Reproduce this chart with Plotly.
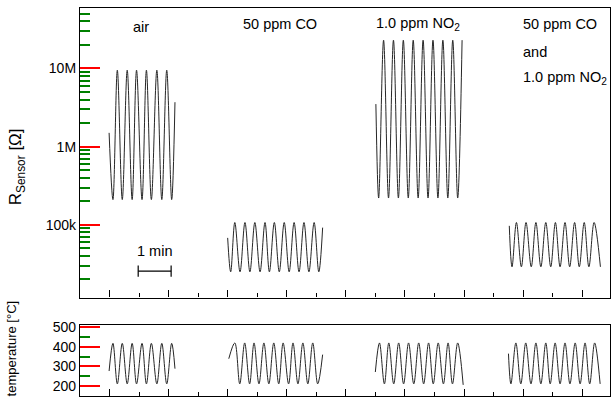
import plotly.graph_objects as go

# ---------------- data (time in s, resistance in Ohm, temperature in degC) -------------
air_t = [53, 60, 68, 77, 86, 95, 103, 113, 121, 130, 140, 149, 158, 167, 173]
air_r = [1.5e6, 2.1e5, 9.5e6, 2.1e5, 9.5e6, 2.1e5, 9.5e6, 2.1e5, 9.5e6, 2.1e5,
         9.5e6, 2.1e5, 9.5e6, 2.1e5, 3.7e6]
air_temp = [276, 418, 210, 418, 210, 418, 210, 418, 210, 418, 210, 418, 210, 418, 288]

co_t = [269, 274.5, 282, 291.5, 300.5, 309.5, 318.5, 328, 337, 345, 354, 363, 372,
        381, 390, 399, 408, 417, 426.5, 435, 442]
co_r = [6.8e4, 2.5e4, 1.07e5, 2.5e4, 1.07e5, 2.5e4, 1.07e5, 2.5e4, 1.07e5, 2.5e4,
        1.07e5, 2.5e4, 1.07e5, 2.5e4, 1.07e5, 2.5e4, 1.07e5, 2.5e4, 1.07e5, 2.5e4, 9.2e4]
co_temp_t = [271, 282, 291, 300, 309, 317, 326, 335, 344, 353, 362, 370, 380, 388,
             397, 406, 415, 424, 433, 442]
co_temp = [339, 420, 210, 420, 210, 420, 210, 420, 210, 420, 210, 420, 210, 420,
           210, 420, 210, 420, 210, 360]

no2_t = [539, 544, 553, 562, 571, 580, 589, 598, 607, 616, 625, 634, 643, 652, 661,
         670, 679, 688, 696]
no2_r = [3.5e6, 2.2e5, 2.3e7, 2.2e5, 2.3e7, 2.2e5, 2.3e7, 2.2e5, 2.3e7, 2.2e5,
         2.3e7, 2.2e5, 2.3e7, 2.2e5, 2.3e7, 2.2e5, 2.3e7, 2.2e5, 2.3e7]
no2_temp_t = [538, 545.5, 554.5, 562.5, 571.5, 580.5, 589.5, 598.5, 608, 617, 626,
              635, 643.5, 652.5, 662, 670.5, 678.5, 688, 698]
no2_temp = [271, 420, 210, 420, 210, 420, 210, 420, 210, 420, 210, 420, 210, 420,
            210, 420, 210, 420, 205]

mix_t = [782, 787, 795, 804, 812.5, 822, 830.5, 839.5, 848.5, 857.5, 866, 874.5,
         883.5, 892, 901, 909.5, 918.5, 927, 936.5, 948]
mix_r = [9.7e4, 2.9e4, 1.07e5, 2.9e4, 1.07e5, 2.9e4, 1.07e5, 2.9e4, 1.07e5, 2.9e4,
         1.07e5, 2.9e4, 1.07e5, 2.9e4, 1.07e5, 2.9e4, 1.07e5, 2.9e4, 1.07e5, 2.9e4]
mix_temp_t = [780.5, 785, 794, 803, 812, 821.5, 830.5, 839.5, 848.5, 856.5, 865.5,
              874.5, 883.5, 892.5, 902, 911, 920, 928.5, 937.5, 947.5]
mix_temp = [365, 210, 420, 210, 420, 210, 420, 210, 420, 210, 420, 210, 420, 210,
            420, 210, 420, 210, 420, 210]

labels = ["air", "50 ppm CO", "1.0 ppm NO<sub>2</sub>"]
mix_label = ["50 ppm CO", "and", "1.0 ppm NO<sub>2</sub>"]
r_decades = [1e5, 1e6, 1e7]
r_decade_text = ["100k", "1M", "10M"]
r_minor = [m * 10 ** e for e in range(4, 8) for m in range(2, 10)]
temp_ticks = [200, 300, 400, 500]
temp_minor = [150, 250, 350, 450]
scalebar_t = [106, 166]      # 1 min
scalebar_r = [2.55e4, 2.55e4]

# ---------------- figure ----------------
W, H = 613, 403
ML, MR, MT, MB = 80, 2, 6, 7
PW, PH = W - ML - MR, H - MT - MB
FONT = "Liberation Sans, Arial, Helvetica, sans-serif"
LC = "#262626"
YR = [4.07, 7.773]
TR = [148, 510]


def px(xp):
    return (xp - ML) / PW


def py(yp):
    return (H - MB - yp) / PH


fig = go.Figure()
for t, r in [(air_t, air_r), (co_t, co_r), (no2_t, no2_r), (mix_t, mix_r)]:
    fig.add_trace(go.Scatter(x=t, y=r, mode="lines", xaxis="x", yaxis="y",
                             line=dict(color=LC, width=1, shape="spline", smoothing=1),
                             showlegend=False, hoverinfo="skip"))
for t, v in [(air_t, air_temp), (co_temp_t, co_temp), (no2_temp_t, no2_temp),
             (mix_temp_t, mix_temp)]:
    fig.add_trace(go.Scatter(x=t, y=v, mode="lines", xaxis="x2", yaxis="y2",
                             line=dict(color=LC, width=1, shape="spline", smoothing=1),
                             showlegend=False, hoverinfo="skip"))
fig.add_trace(go.Scatter(x=scalebar_t, y=scalebar_r, mode="lines+markers",
                         xaxis="x", yaxis="y",
                         line=dict(color="black", width=1.2),
                         marker=dict(symbol="line-ns", size=8,
                                     line=dict(color="black", width=1.2)),
                         showlegend=False, hoverinfo="skip"))

top_bottom = (H - MB - 297) / PH
bot_top = (H - MB - 325) / PH

xcommon = dict(range=[0, PW / 0.55], showline=True, linecolor="black", linewidth=1.3,
               mirror=True, ticks="inside", tickmode="linear", tick0=54.5, dtick=107.5,
               ticklen=7, tickcolor="black", tickwidth=1.2, showticklabels=False,
               showgrid=False, zeroline=False,
               minor=dict(ticks="inside", ticklen=4, tick0=54.5, dtick=53.75,
                          tickcolor="black", tickwidth=1))

fig.update_layout(
    width=W, height=H, margin=dict(l=ML, r=MR, t=MT, b=MB),
    paper_bgcolor="white", plot_bgcolor="white",
    font=dict(family=FONT, size=14, color="black"),
    xaxis=dict(domain=[0, 1], anchor="y", **xcommon),
    xaxis2=dict(domain=[0, 1], anchor="y2", matches="x", **xcommon),
    yaxis=dict(domain=[top_bottom, 1], anchor="x", type="log", range=YR,
               showline=True, linecolor="black", linewidth=1.3, mirror=True,
               ticks="inside", ticklen=20, tickcolor="red", tickwidth=2,
               tickmode="array", tickvals=r_decades, ticktext=r_decade_text,
               tickfont=dict(family=FONT, size=14, color="black"),
               minor=dict(ticks="inside", ticklen=10, tickmode="array",
                          tickvals=r_minor, tickcolor="green", tickwidth=2)),
    yaxis2=dict(domain=[0, bot_top], anchor="x2", range=TR,
                showline=True, linecolor="black", linewidth=1.3, mirror=True,
                ticks="inside", ticklen=20, tickcolor="red", tickwidth=2,
                tickmode="array", tickvals=temp_ticks,
                tickfont=dict(family=FONT, size=14, color="black"),
                minor=dict(ticks="inside", ticklen=10, tickmode="array",
                           tickvals=temp_minor, tickcolor="green", tickwidth=2)),
)

LAB = dict(family=FONT, size=14.5, color="black")
ann = []
ann.append(dict(text=labels[0], x=px(141), y=py(25), xanchor="center", yanchor="middle", font=LAB))
ann.append(dict(text=labels[1], x=px(280), y=py(22), xanchor="center", yanchor="middle", font=LAB))
ann.append(dict(text=labels[2], x=px(375), y=py(22), xanchor="left", yanchor="middle", font=LAB))
for txt, yy in zip(mix_label, [22, 50, 76]):
    ann.append(dict(text=txt, x=px(522), y=py(yy), xanchor="left", yanchor="middle", font=LAB))
ann.append(dict(text="1 min", x=px(154.5), y=py(250), xanchor="center", yanchor="middle", font=LAB))
ann.append(dict(text="R<sub>Sensor</sub> [Ω]", x=px(17), y=py(166), textangle=-90,
                xanchor="center", yanchor="middle",
                font=dict(family=FONT, size=17, color="black")))
ann.append(dict(text="temperature [°C]", x=px(11), y=py(348), textangle=-90,
                xanchor="center", yanchor="middle",
                font=dict(family=FONT, size=13, color="black")))
for a in ann:
    a.update(xref="paper", yref="paper", showarrow=False)
fig.update_layout(annotations=ann)

fig.write_html("out.html")
